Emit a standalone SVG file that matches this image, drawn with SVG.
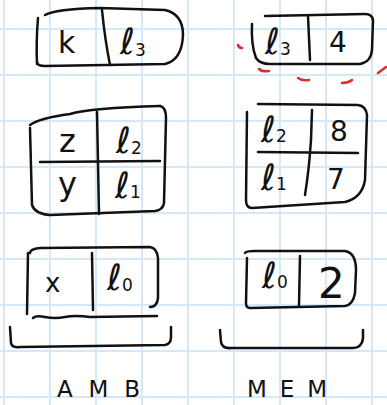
<svg xmlns="http://www.w3.org/2000/svg" width="387" height="405" viewBox="0 0 387 405">
<style>
.grid{stroke:#d4e8f8;stroke-width:2}
.ink{fill:none;stroke:#111;stroke-width:2.5;stroke-linecap:round;stroke-linejoin:round}
.red{fill:none;stroke:#e42a2a;stroke-width:2.6;stroke-linecap:round}
.t{font-family:"DejaVu Sans",sans-serif;fill:#111}
.l{font-size:36px}
.s{font-size:17px}
.lab{font-family:"DejaVu Sans",sans-serif;font-size:23px;fill:#111}
</style>
<rect width="387" height="405" fill="#fff"/>
<g id="grid">
<path class="grid" d="M4,0V405M50,0V405M96,0V405M142,0V405M188,0V405M234,0V405M280,0V405M326,0V405M372,0V405M0,29H387M0,75H387M0,121H387M0,167H387M0,213H387M0,259H387M0,305H387M0,351H387M0,397H387"/>
</g>
<g id="connectors"></g>
<g id="amb-k">
<path class="ink" d="M38,18 Q36,42 37,64"/>
<path class="ink" d="M45,15 Q55,9 100,8 L165,10 Q183,14 183,35 Q182,60 165,64 L45,66 Q37,66 37,62"/>
<path class="ink" d="M102,10 Q105,40 110,65"/>
<text class="t" style="font-size:30px" x="58" y="53">k</text>
<text class="t l" x="120" y="54">ℓ<tspan class="s" dy="2">3</tspan></text>
</g>
<g id="mem-l3">
<path class="ink" d="M252,24 Q251,45 256,58 Q260,64 270,64 L360,64 Q371,62 372,50 L373,20 Q372,14 365,14 L265,16"/>
<path class="ink" d="M308,16 L310,60"/>
<text class="t l" x="265" y="54">ℓ<tspan class="s" dy="1">3</tspan></text>
<text class="t" style="font-size:28px" x="329" y="52">4</text>
<g id="mem-l3-mark">
<path class="red" d="M238,45 Q239,48 242,48"/>
<path class="red" d="M259,69 Q262,72 269,71"/>
<path class="red" d="M298,78 Q302,81 309,80"/>
<path class="red" d="M342,83 Q348,83 352,80"/>
<path class="red" d="M378,73 L386,67"/>
</g>
</g>
<g id="amb-zy">
<path class="ink" d="M30,125 Q40,118 70,114 Q90,108 160,106"/>
<path class="ink" d="M160,106 Q166,107 166,118 L164,203 Q163,210 155,211 L50,215 Q35,214 32,205 L30,128"/>
<path class="ink" d="M40,162 L160,161"/>
<path class="ink" d="M97,112 L99,214"/>
<text class="t" style="font-size:32px" x="59" y="152">z</text>
<text class="t l" x="116" y="153">ℓ<tspan class="s" dy="1">2</tspan></text>
<text class="t" style="font-size:32px" x="58" y="195">y</text>
<text class="t l" x="115" y="198">ℓ<tspan class="s" dy="0">1</tspan></text>
</g>
<g id="mem-l2l1">
<path class="ink" d="M247,112 L246,200 Q246,208 252,208 L345,202 Q362,198 365,180 L367,115 Q366,106 358,105 L258,104"/>
<path class="ink" d="M258,152 L358,153"/>
<path class="ink" d="M312,110 L311,140 Q309,170 305,195"/>
<text class="t l" x="261" y="142">ℓ<tspan class="s" dy="0">2</tspan></text>
<text class="t" style="font-size:28px" x="330" y="141">8</text>
<text class="t l" x="261" y="190">ℓ<tspan class="s" dy="0">1</tspan></text>
<text class="t" style="font-size:28px" x="327" y="189">7</text>
</g>
<g id="amb-x">
<path class="ink" d="M28,253 L27,314"/>
<path class="ink" d="M30,253 Q30,249 40,248 L150,247 Q157,248 158,258 L158,298 Q157,307 150,307"/>
<path class="ink" d="M33,318 Q36,315 45,317 Q55,319 65,317 Q75,315 90,317 L157,316"/>
<path class="ink" d="M92,253 L93,310"/>
<text class="t" style="font-size:26px" x="45" y="292">x</text>
<text class="t l" x="107" y="290">ℓ<tspan class="s" dy="1">0</tspan></text>
</g>
<g id="mem-l0">
<path class="ink" d="M247,258 L246,303 Q246,308 250,308 L345,306 Q353,305 355,293 L356,270 Q356,253 345,251 L255,251 Q246,251 245,253"/>
<path class="ink" d="M300,256 L299,305"/>
<text class="t l" x="262" y="288">ℓ<tspan class="s" dy="0">0</tspan></text>
<text class="t" style="font-size:42px" x="318" y="298">2</text>
</g>
<g id="amb-bracket">
<path class="ink" d="M10,327 L11,343 Q12,348 20,347 L165,345 Q171,344 171,337 L171,327"/>
</g>
<g id="mem-bracket">
<path class="ink" d="M220,330 L221,342 Q222,349 232,348 L350,348 Q362,349 363,338 L363,330"/>
</g>
<g id="labels">
<text class="lab" x="57" y="397" textLength="83" lengthAdjust="spacing">AMB</text>
<text class="lab" x="247" y="397" textLength="80" lengthAdjust="spacing">MEM</text>
</g>
</svg>
